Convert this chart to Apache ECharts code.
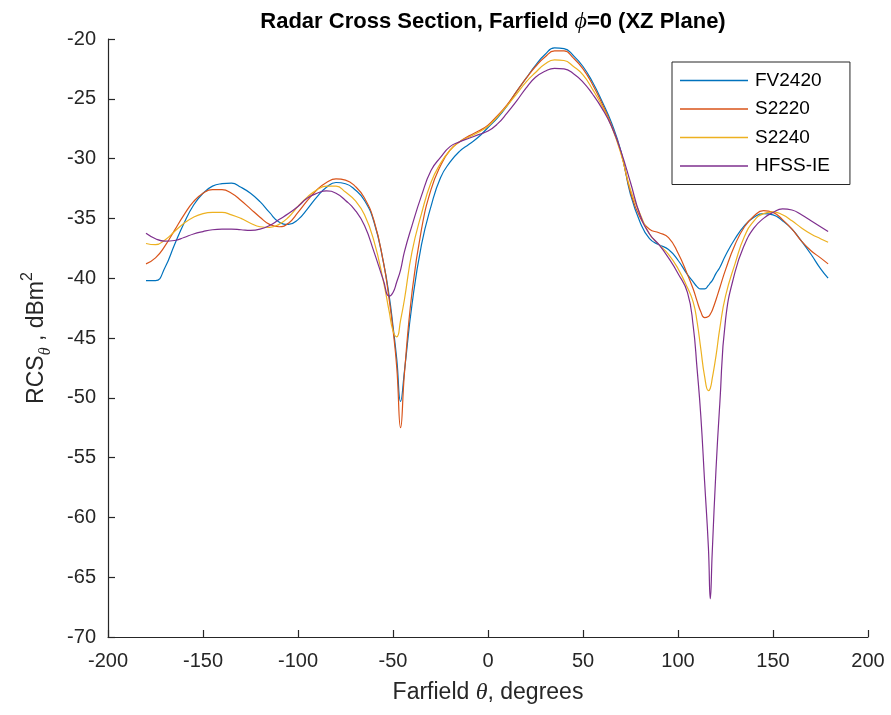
<!DOCTYPE html>
<html>
<head>
<meta charset="utf-8">
<script src="https://cdn.jsdelivr.net/npm/echarts@6/dist/echarts.min.js"></script>
<style>html,body{margin:0;padding:0;background:#fff;}#chart{width:891px;height:715px;}</style>
</head>
<body>
<div id="chart"></div>
<script>
var theta = [-180,-175,-170,-165,-160,-155,-150,-145,-140,-135,-130,-125,-120,-115,-110,-105,-100,-95,-90,-85,-80,-75,-70,-65,-60,-55,-52,-50,-48,-46,-44,-40,-35,-30,-25,-20,-15,-10,-5,0,5,10,15,20,25,30,35,40,45,50,55,60,65,70,75,80,85,90,95,100,105,108,110,112,114,116,117,118,120,122,125,130,135,140,145,150,155,160,165,170,175,179];

var fv2420 = [-40.2,-40.2,-39.1,-37.2,-35.4,-33.9,-32.9,-32.3,-32.1,-32.05,-32.4,-32.9,-33.6,-34.5,-35.3,-35.5,-35.1,-34.2,-33.2,-32.4,-32.0,-32.1,-32.6,-33.5,-35.3,-38.7,-41.5,-44.0,-46.8,-50.3,-47.8,-42.2,-37.2,-34.0,-31.6,-30.3,-29.4,-28.8,-28.2,-27.4,-26.6,-25.6,-24.4,-23.3,-22.2,-21.3,-20.75,-20.8,-21.4,-22.3,-23.6,-25.2,-27.0,-29.4,-33.0,-35.3,-36.7,-37.2,-37.6,-38.5,-39.7,-40.3,-40.7,-40.9,-40.9,-40.6,-40.4,-40.2,-39.6,-39.1,-38.1,-36.7,-35.6,-34.9,-34.6,-34.7,-35.2,-35.9,-36.9,-38.0,-39.2,-40.0];

var s2220 = [-38.8,-38.3,-37.3,-36.0,-34.7,-33.6,-32.9,-32.6,-32.6,-32.9,-33.5,-34.2,-34.9,-35.5,-35.7,-35.4,-34.5,-33.5,-32.6,-32.0,-31.7,-31.8,-32.3,-33.3,-35.2,-38.7,-41.8,-44.3,-47.5,-52.5,-48.0,-41.2,-35.9,-32.6,-30.6,-29.3,-28.6,-28.1,-27.7,-27.2,-26.4,-25.5,-24.4,-23.3,-22.3,-21.5,-21.0,-21.0,-21.6,-22.5,-23.8,-25.4,-27.2,-29.5,-32.8,-34.9,-35.9,-36.2,-36.6,-37.9,-39.7,-40.9,-41.9,-42.8,-43.3,-43.2,-43.0,-42.7,-41.8,-40.8,-39.3,-37.2,-35.7,-34.8,-34.35,-34.5,-35.1,-35.9,-36.9,-37.7,-38.3,-38.8];

var s2240 = [-37.1,-37.2,-36.8,-36.1,-35.4,-34.9,-34.6,-34.5,-34.5,-34.7,-35.0,-35.4,-35.7,-35.75,-35.5,-34.9,-34.0,-33.2,-32.6,-32.3,-32.3,-32.8,-33.5,-34.7,-36.9,-40.3,-42.8,-44.4,-44.9,-43.5,-41.8,-37.8,-34.6,-32.0,-30.4,-29.3,-28.6,-28.2,-27.8,-27.3,-26.5,-25.6,-24.6,-23.6,-22.8,-22.1,-21.75,-21.8,-22.3,-23.0,-24.2,-25.6,-27.3,-29.6,-32.6,-34.6,-36.3,-37.2,-38.0,-39.2,-40.8,-42.0,-43.6,-45.9,-48.2,-49.4,-49.2,-48.4,-46.5,-44.2,-41.5,-38.8,-36.5,-35.2,-34.6,-34.45,-34.7,-35.2,-35.8,-36.3,-36.7,-37.0];

var hfssIE = [-36.25,-36.7,-36.9,-36.85,-36.6,-36.3,-36.1,-35.95,-35.9,-35.9,-35.95,-36.0,-35.9,-35.6,-35.1,-34.6,-34.0,-33.3,-32.9,-32.7,-32.9,-33.5,-34.3,-35.6,-37.8,-40.2,-41.5,-41.2,-40.3,-39.3,-37.8,-35.6,-33.1,-31.0,-29.9,-29.0,-28.6,-28.3,-28.0,-27.7,-27.1,-26.2,-25.2,-24.1,-23.2,-22.7,-22.45,-22.5,-22.9,-23.6,-24.6,-25.8,-27.3,-29.4,-32.0,-34.7,-36.3,-37.2,-38.3,-39.6,-41.2,-44.0,-47.5,-51.5,-57.0,-62.5,-66.8,-63.0,-56.0,-50.5,-43.5,-39.5,-37.2,-35.8,-35.0,-34.5,-34.2,-34.3,-34.7,-35.2,-35.7,-36.1];

var seriesNames = ['FV2420','S2220','S2240','HFSS-IE'];
var seriesColors = ['#0072BD','#D95319','#EDB120','#7E2F8E'];
var xTicks = {min:-200, max:200, step:50};
var yTicks = {min:-70, max:-20, step:5};

var FONT = '"Liberation Sans", Arial, Helvetica, sans-serif';
var AX = '#262626';

function pairs(vals){ return theta.map(function(t,i){ return [t, vals[i]]; }); }
var allVals = [fv2420, s2220, s2240, hfssIE];

var chart = echarts.init(document.getElementById('chart'), null, {renderer:'canvas'});
chart.setOption({
  animation: false,
  backgroundColor: '#fff',
  title: {
    text: 'Radar Cross Section, Farfield {i|\u03D5}=0 (XZ Plane)',
    left: 488, top: 5, textAlign: 'center',
    textStyle: {
      fontFamily: FONT, fontWeight: 'bold', fontSize: 22, color: '#000',
      rich: { i: { fontFamily: '"Liberation Serif", serif', fontStyle: 'italic', fontWeight: 'normal', fontSize: 24, color: '#000' } }
    }
  },
  legend: {
    orient: 'vertical', left: 672, top: 62,
    backgroundColor: '#fff', borderColor: AX, borderWidth: 1,
    padding: [9, 20, 9, 8], itemGap: 9.5,
    itemWidth: 68, itemHeight: 1.5, icon: 'rect',
    textStyle: { fontFamily: FONT, fontSize: 19, color: '#000', padding: [0,0,0,2] },
    data: seriesNames
  },
  grid: { left: 108, right: 23, top: 39, bottom: 78, containLabel: false },
  xAxis: {
    type: 'value', min: xTicks.min, max: xTicks.max, interval: xTicks.step,
    name: 'Farfield {i|\u03B8}, degrees', nameLocation: 'middle', nameGap: 44,
    nameTextStyle: { fontFamily: FONT, fontSize: 23, color: AX,
      rich: { i: { fontFamily: '"Liberation Serif", serif', fontStyle: 'italic', fontSize: 24, color: AX } } },
    axisLine: { show: true, onZero: false, lineStyle: { color: AX, width: 1.2 } },
    axisTick: { show: true, inside: true, length: 7, lineStyle: { color: AX, width: 1.2 } },
    axisLabel: { fontFamily: FONT, fontSize: 20, color: AX, margin: 14 },
    splitLine: { show: false }
  },
  yAxis: {
    type: 'value', min: yTicks.min, max: yTicks.max, interval: yTicks.step,
    name: '{n|RCS}{sub|\u03B8}{n| , dBm}{sup|2}', nameLocation: 'middle', nameGap: 54, nameRotate: 90,
    nameTextStyle: { fontFamily: FONT, fontSize: 23, color: AX,
      rich: {
        n: { fontFamily: FONT, fontSize: 23, color: AX, lineHeight: 34, verticalAlign: 'middle' },
        sub: { fontFamily: '"Liberation Serif", serif', fontStyle: 'italic', fontSize: 16, color: AX, lineHeight: 34, verticalAlign: 'bottom' },
        sup: { fontFamily: FONT, fontSize: 16, color: AX, lineHeight: 34, verticalAlign: 'top' }
      } },
    axisLine: { show: true, onZero: false, lineStyle: { color: AX, width: 1.2 } },
    axisTick: { show: true, inside: true, length: 7, lineStyle: { color: AX, width: 1.2 } },
    axisLabel: { fontFamily: FONT, fontSize: 20, color: AX, margin: 12 },
    splitLine: { show: false }
  },
  series: seriesNames.map(function(n, k){
    return {
      name: n, type: 'line', data: pairs(allVals[k]),
      showSymbol: false, symbol: 'none', smooth: 0.5,
      lineStyle: { color: seriesColors[k], width: 1.2 },
      itemStyle: { color: seriesColors[k] },
      z: 2 + k
    };
  })
});
</script>
</body>
</html>
